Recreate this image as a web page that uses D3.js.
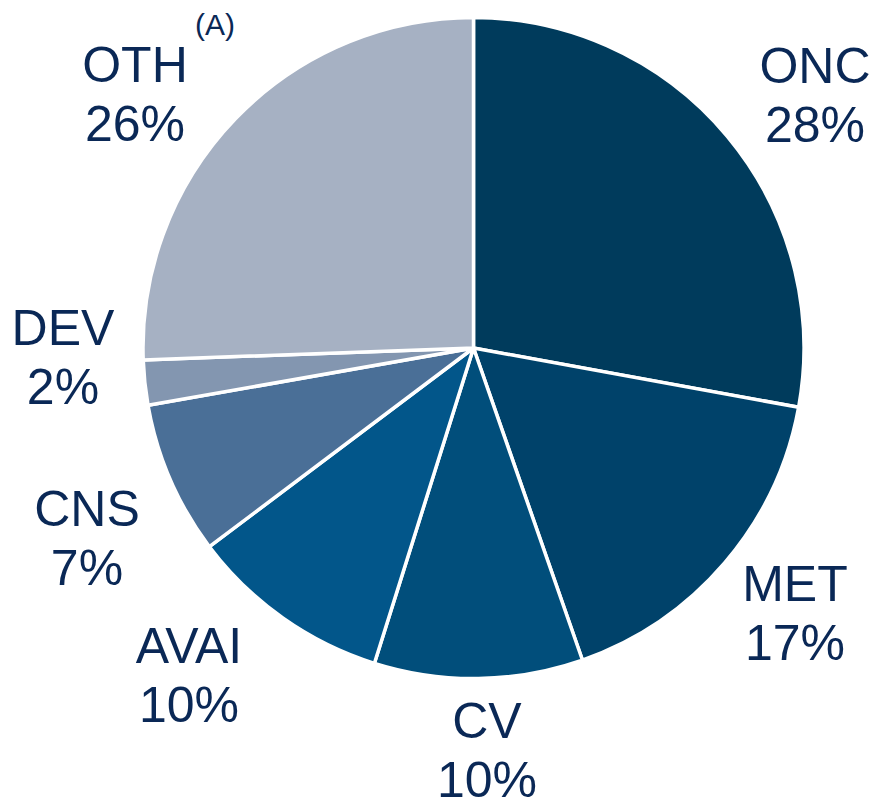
<!DOCTYPE html>
<html><head><meta charset="utf-8">
<script src="https://cdn.jsdelivr.net/npm/d3@7"></script>
<style>html,body{margin:0;padding:0;background:#fff;}</style>
</head><body>
<svg id="chart" width="873" height="808"></svg>
<script>
const categories = ["ONC", "MET", "CV", "AVAI", "CNS", "DEV", "OTH"];
const values = [27.9, 16.8, 10.2, 9.9, 7.5, 2.2, 25.6];
const percentLabels = ["28%", "17%", "10%", "10%", "7%", "2%", "26%"];
const colors = ["#003b5c", "#00426a", "#014e7b", "#02568a", "#4a6f97", "#8396b0", "#a6b1c3"];
const labelPos = [[815, 83], [795, 601], [487, 738], [189, 663], [87, 526], [63, 345], [135, 82]];
const footnotes = {"OTH": "(A)"};

const svg = d3.select("#chart");
const cx = 473.5, cy = 348, r = 330.5;
const data = categories.map((c, i) => ({cat: c, value: values[i], label: percentLabels[i], color: colors[i]}));
const pie = d3.pie().value(d => d.value).sort(null);
const arc = d3.arc().innerRadius(0).outerRadius(r);
const g = svg.append("g").attr("transform", `translate(${cx},${cy})`);
g.selectAll("path").data(pie(data)).join("path")
  .attr("d", arc).attr("fill", d => d.data.color)
  .attr("stroke", "#fff").attr("stroke-width", 3.5).attr("stroke-linejoin", "round");

const textColor = "#0a2856";
data.forEach((d, i) => {
  const [x, y] = labelPos[i];
  const t = svg.append("text").attr("x", x).attr("y", y).attr("text-anchor", "middle")
    .attr("font-family", "Liberation Sans, Arial, sans-serif").attr("font-size", 50).attr("fill", textColor);
  t.append("tspan").attr("x", x).attr("y", y).text(d.cat);
  t.append("tspan").attr("x", x).attr("y", y + 59).text(d.label);
  if (footnotes[d.cat]) {
    svg.append("text").attr("x", 215).attr("y", 35).attr("text-anchor", "middle")
      .attr("font-family", "Liberation Sans, Arial, sans-serif").attr("font-size", 30)
      .attr("fill", textColor).text(footnotes[d.cat]);
  }
});
</script>
</body></html>
